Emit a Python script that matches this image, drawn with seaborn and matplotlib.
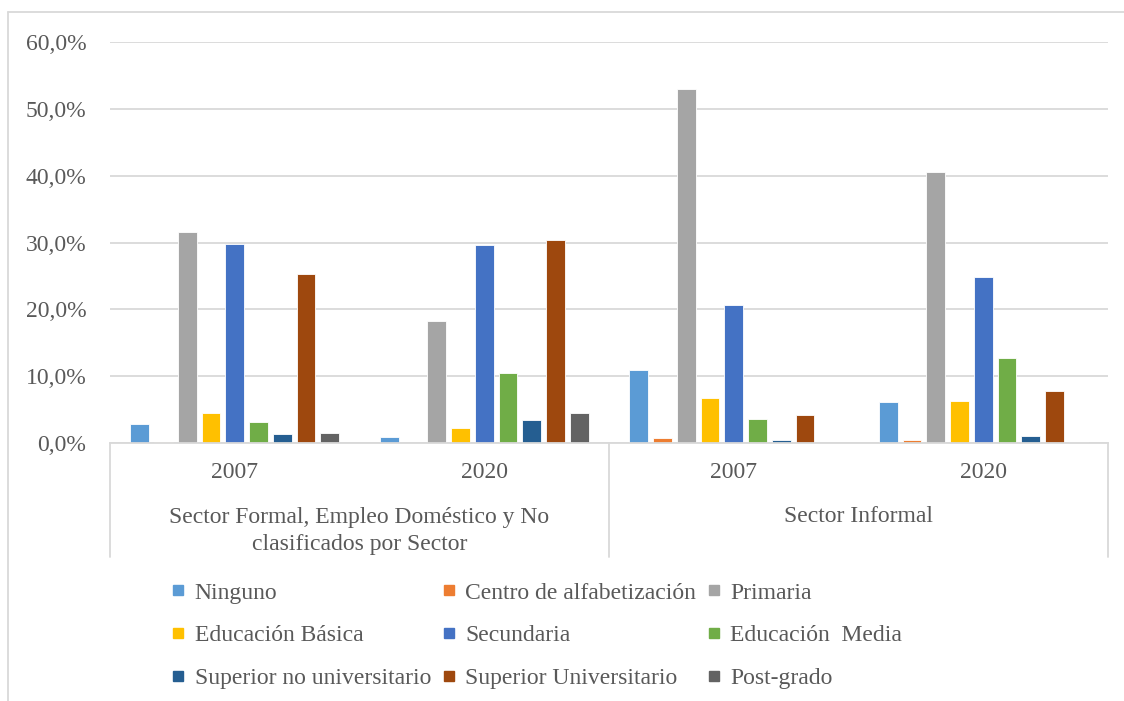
import matplotlib
matplotlib.use("Agg")
import matplotlib.pyplot as plt
import matplotlib.transforms as mtransforms
from matplotlib.lines import Line2D
import seaborn as sns
import pandas as pd

# ---- data ----
grupos = ["F2007", "F2020", "I2007", "I2020"]
anios = ["2007", "2020", "2007", "2020"]
sectores = ["Sector Formal, Empleo Doméstico y No\nclasificados por Sector", "Sector Informal"]
niveles = ["Ninguno", "Centro de alfabetización", "Primaria", "Educación Básica",
           "Secundaria", "Educación  Media", "Superior no universitario",
           "Superior Universitario", "Post-grado"]
formal_2007 = [2.9, 0.1, 31.6, 4.5, 29.8, 3.1, 1.4, 25.3, 1.5]
formal_2020 = [0.85, 0.05, 18.2, 2.3, 29.7, 10.5, 3.5, 30.4, 4.5]
informal_2007 = [10.9, 0.7, 53.0, 6.8, 20.6, 3.6, 0.4, 4.2, 0.0]
informal_2020 = [6.1, 0.5, 40.6, 6.3, 24.8, 12.7, 1.05, 7.8, 0.15]
colores = ["#5B9BD5", "#ED7D31", "#A5A5A5", "#FFC000", "#4472C4",
           "#70AD47", "#255E91", "#9E480E", "#636363"]
yticks = [0, 10, 20, 30, 40, 50, 60]

series = [formal_2007, formal_2020, informal_2007, informal_2020]
rows = []
for g, vals in zip(grupos, series):
    for n, v in zip(niveles, vals):
        rows.append({"grupo": g, "nivel": n, "valor": v})
df = pd.DataFrame(rows)

# ---- style ----
sns.set_theme(style="white")
plt.rcParams["font.family"] = ["Liberation Serif", "DejaVu Serif"]
txt = "#595959"
grid = "#D9D9D9"
fs = 17

W, H = 1124, 701
fig = plt.figure(figsize=(W / 100, H / 100), dpi=100)
ax = fig.add_axes([110 / W, 1 - 443 / H, (1108 - 110) / W, (443 - 42) / H])

sns.barplot(data=df, x="grupo", y="valor", hue="nivel", order=grupos,
            hue_order=niveles, palette=colores, saturation=1, width=0.857, gap=0.21,
            edgecolor="white", linewidth=0.6, ax=ax, legend=False)

ax.set_xlim(-0.5, 3.5)
ax.set_ylim(0, 60)
ax.set_yticks(yticks)
ax.set_yticklabels([f"{v:.1f}%".replace(".", ",") for v in yticks],
                   color=txt, fontsize=fs)
ax.yaxis.grid(True, color=grid, linewidth=1.3)
ax.set_axisbelow(True)
ax.tick_params(axis="y", length=0, pad=17)
ax.set_xticks(range(len(grupos)))
ax.set_xticklabels(anios, color=txt, fontsize=fs)
ax.tick_params(axis="x", length=0, pad=14)
ax.set_xlabel("")
ax.set_ylabel("")
for s in ["left", "right", "top"]:
    ax.spines[s].set_visible(False)
ax.spines["bottom"].set_color(grid)
ax.spines["bottom"].set_linewidth(1.3)

# category separators
trans = mtransforms.blended_transform_factory(ax.transData, ax.transAxes)
sep_depth = -(557 - 443) / (443 - 42)
for xs in [-0.5, 1.5, 3.5]:
    ax.add_line(Line2D([xs, xs], [0, sep_depth], transform=trans, color=grid,
                       linewidth=1.3, clip_on=False))

# sector labels
ax.text(0.5, -(531 - 443) / 401, sectores[0], transform=trans, ha="center",
        va="center", color=txt, fontsize=fs, linespacing=1.38)
ax.text(2.5, -(517 - 443) / 401, sectores[1], transform=trans, ha="center",
        va="center", color=txt, fontsize=fs)

# legend (row-wise order)
handles = [Line2D([], [], marker="s", linestyle="", markersize=7.6,
                  markerfacecolor=c, markeredgecolor=c) for c in colores]
order = [0, 3, 6, 1, 4, 7, 2, 5, 8]
fig.legend([handles[i] for i in order], [niveles[i] for i in order],
           ncol=3, loc="upper left", bbox_to_anchor=(171 / W, 1 - 582 / H),
           frameon=False, fontsize=fs, labelcolor=txt, handlelength=0.6,
           handletextpad=0.4, columnspacing=0.45, labelspacing=0.9,
           borderpad=0, borderaxespad=0)

# outer border
fig.add_artist(Line2D([8 / W, 1], [1 - 12 / H, 1 - 12 / H], transform=fig.transFigure,
                      color=grid, linewidth=1.3))
fig.add_artist(Line2D([8 / W, 8 / W], [1 - 12 / H, 0], transform=fig.transFigure,
                      color=grid, linewidth=1.3))

fig.savefig("out.png", dpi=100, facecolor="white")
